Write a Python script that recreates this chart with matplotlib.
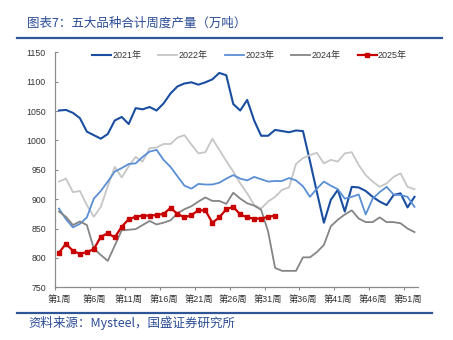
import matplotlib
matplotlib.use("Agg")
import matplotlib.pyplot as plt
from matplotlib.lines import Line2D
import numpy as np

plt.rcParams['font.family'] = ['Liberation Sans', 'Noto Sans CJK SC', 'DejaVu Sans']

title = "图表7：五大品种合计周度产量（万吨）"
source = "资料来源：Mysteel，国盛证券研究所"
series_names = ["2021年", "2022年", "2023年", "2024年", "2025年"]

v2021 = [1051, 1052, 1047, 1038, 1015, 1009, 1003, 1011, 1034, 1040, 1028, 1055, 1053,
         1057, 1051, 1063, 1080, 1092, 1097, 1099, 1095, 1099, 1104, 1115, 1111, 1062,
         1051, 1069, 1034, 1008, 1008, 1018, 1016, 1014, 1017, 1016, 965, 912, 860, 899,
         916, 879, 921, 920, 914, 904, 896, 890, 907, 910, 886, 904]
v2022 = [930, 935, 912, 914, 890, 870, 887, 922, 955, 937, 956, 972, 964, 987, 988, 994,
         994, 1005, 1009, 993, 978, 980, 1003, 984, 965, 947, 927, 910, 890, 884, 896, 904,
         916, 920, 960, 970, 975, 979, 961, 967, 964, 978, 980, 958, 941, 930, 921, 927,
         938, 944, 921, 917]
v2023 = [884, 866, 852, 858, 869, 901, 914, 930, 947, 953, 960, 961, 972, 981, 984, 967,
         955, 939, 923, 918, 926, 925, 925, 928, 935, 941, 935, 932, 938, 934, 930, 931,
         931, 936, 932, 922, 904, 918, 930, 923, 917, 901, 904, 908, 874, 901, 912, 921,
         908, 907, 904, 887]
v2024 = [879, 870, 856, 862, 856, 816, 805, 795, 821, 847, 848, 849, 856, 863, 857, 860,
         864, 876, 883, 888, 896, 903, 897, 897, 892, 911, 901, 893, 889, 882, 845, 783,
         778, 778, 778, 801, 801, 810, 822, 854, 865, 874, 881, 867, 861, 861, 869, 861,
         861, 859, 850, 844]
v2025 = [809, 824, 812, 807, 810, 815, 836, 842, 835, 853, 866, 870, 872, 872, 873, 875,
         885, 875, 869, 873, 881, 881, 860, 869, 883, 887, 874, 869, 867, 867, 870, 872]

n_weeks = 52
label_weeks = list(range(1, 53, 5))
tick_labels = [f"第{w}周" for w in label_weeks]
y_ticks = [750, 800, 850, 900, 950, 1000, 1050, 1100, 1150]

fig = plt.figure(figsize=(4.53, 3.40), dpi=100)
ax = fig.add_axes([0.1225, 0.155, 0.8002, 0.691])

c2021 = '#1a4ea0'
c2022 = '#c6c6c6'
c2023 = '#5a8fd4'
c2024 = '#858585'
c2025 = '#c80000'

ax.plot(np.arange(1, len(v2021) + 1), v2021, color=c2021, lw=1.5, label=series_names[0])
ax.plot(np.arange(1, len(v2022) + 1), v2022, color=c2022, lw=1.3, label=series_names[1])
ax.plot(np.arange(1, len(v2023) + 1), v2023, color=c2023, lw=1.3, label=series_names[2])
ax.plot(np.arange(1, len(v2024) + 1), v2024, color=c2024, lw=1.3, label=series_names[3])
ax.plot(np.arange(1, len(v2025) + 1), v2025, color=c2025, lw=1.6, marker='s',
        markersize=3.2, label=series_names[4])

ax.set_xlim(0.5, n_weeks + 0.5)
ax.set_ylim(750, 1150)
ax.set_yticks(y_ticks)
ax.set_xticks(label_weeks)
ax.set_xticklabels(tick_labels)
ax.set_xticks([w - 0.5 for w in label_weeks], minor=True)

for s in ['top', 'right']:
    ax.spines[s].set_visible(False)
for s in ['left', 'bottom']:
    ax.spines[s].set_color('#8c8c8c')
    ax.spines[s].set_linewidth(0.9)

ax.tick_params(axis='y', direction='in', length=2.5, width=0.8, color='#8c8c8c',
               labelsize=6.3, pad=7, labelcolor='#333333')
ax.tick_params(axis='x', which='major', length=0, labelsize=6.6, pad=5.5, labelcolor='#333333')
ax.tick_params(axis='x', which='minor', direction='out', length=2.5, width=0.8, color='#8c8c8c')

leg = ax.legend(loc='center', bbox_to_anchor=(0.535, 0.985), ncol=5, frameon=False,
                fontsize=6.5, handlelength=2.1, handletextpad=0.15, columnspacing=1.9,
                borderaxespad=0, markerscale=0.9)
for t in leg.get_texts():
    t.set_color('#333333')

blue = '#2F5597'
fig.text(0.06, 0.932, title, fontsize=9, color='#2B4C96', style='italic',
         family=['Noto Sans CJK SC'], va='center', ha='left')
fig.add_artist(Line2D([17 / 453, 442 / 453], [1 - 38 / 340, 1 - 38 / 340],
                      color=blue, lw=1.6, transform=fig.transFigure))
fig.add_artist(Line2D([17 / 453, 432 / 453], [1 - 313 / 340, 1 - 313 / 340],
                      color=blue, lw=1.6, transform=fig.transFigure))
fig.text(0.062, 0.05, source, fontsize=9, color='#2B4C96', style='italic',
         family=['Noto Sans CJK SC'], va='center', ha='left')

fig.savefig('out.png', dpi=100)
